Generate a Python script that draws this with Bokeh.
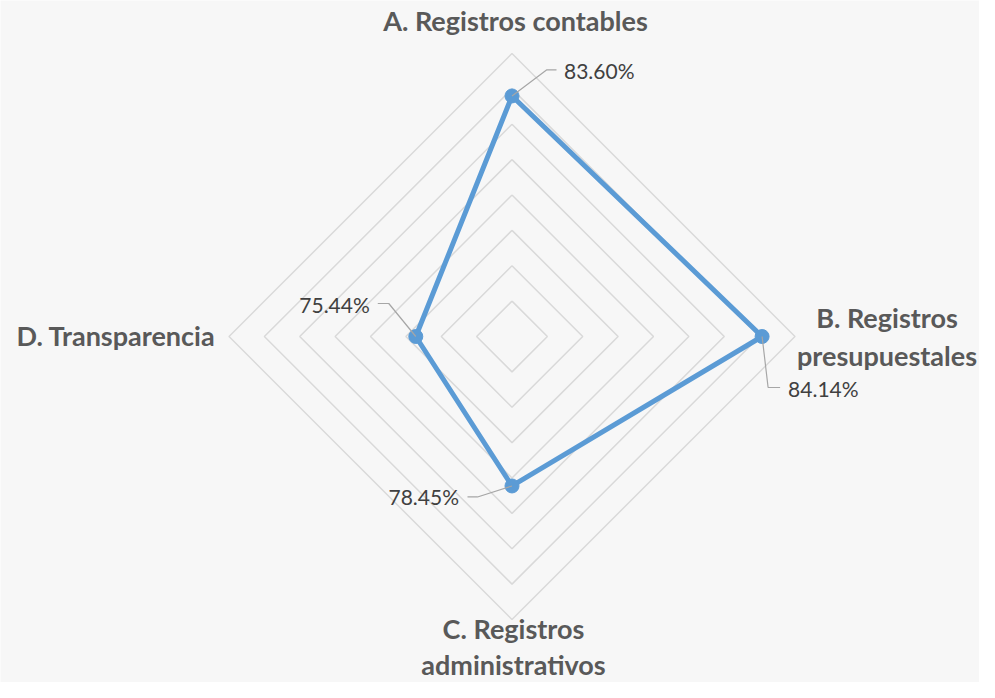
import numpy as np
from bokeh.plotting import figure
from bokeh.models import Range1d
from bokeh.core.properties import value
from bokeh.embed import file_html
from bokeh.resources import INLINE

# ---- data ----
categories = ["A. Registros contables", "B. Registros\npresupuestales",
              "C. Registros\nadministrativos", "D. Transparencia"]
scores = [83.60, 84.14, 78.45, 75.44]
score_labels = ["83.60%", "84.14%", "78.45%", "75.44%"]
ring_ticks = [70, 72, 74, 76, 78, 80, 82, 84, 86]

# ---- layout / style ----
W, H = 979, 682
CX, CY = 511.5, 336.0          # centre in figure pixels (from left / top)
R = 283.0                       # outer ring radius in px
vmin, vmax = ring_ticks[0], ring_ticks[-1]
angles = np.deg2rad([90, 0, -90, 180])   # clockwise from top

BG = "#f7f7f7"
GRID = "#d9d9d9"
SERIES = "#5b9bd5"
CAT_COLOR = "#595959"
LBL_COLOR = "#404040"
LEADER = "#a6a6a6"
FONT = "Lato"

def rad(v):
    return (np.asarray(v, dtype=float) - vmin) / (vmax - vmin) * R

p = figure(width=W, height=H, output_backend="svg", toolbar_location=None,
           x_axis_type=None, y_axis_type=None,
           x_range=Range1d(-CX, W - CX), y_range=Range1d(-(H - CY), CY),
           min_border=0, background_fill_color=BG, border_fill_color=BG,
           outline_line_color=None)
p.grid.visible = False

# rings
rx, ry = [], []
for t in ring_ticks[1:]:
    r = float(rad(t))
    xs = [r * np.cos(a) for a in angles] + [r * np.cos(angles[0])]
    ys = [r * np.sin(a) for a in angles] + [r * np.sin(angles[0])]
    rx.append(xs); ry.append(ys)
p.multi_line(rx, ry, line_color=GRID, line_width=1.5)

# series
rs = rad(scores)
px = rs * np.cos(angles)
py = rs * np.sin(angles)
p.line(list(px) + [px[0]], list(py) + [py[0]], line_color=SERIES, line_width=5,
       line_join="round")
p.scatter(px, py, size=14, fill_color=SERIES, line_color=SERIES)

# data labels with leader lines (offsets in px: elbow, end, text anchor)
elbow = [(34.5, 26), (6, -51), (-34.5, -11), (-27, 33)]
tail = [(44.5, 26), (18, -51), (-44.5, -11), (-38, 33)]
txt = [(52, 25), (26, -52), (-53, -11), (-46, 32)]
aligns = ["left", "left", "right", "right"]
for i in range(4):
    ex, ey = px[i] + elbow[i][0], py[i] + elbow[i][1]
    tx, ty = px[i] + tail[i][0], py[i] + tail[i][1]
    p.line([px[i], ex, tx], [py[i], ey, ty], line_color=LEADER, line_width=1.2)
    p.text([px[i] + txt[i][0]], [py[i] + txt[i][1]], text=[score_labels[i]],
           text_font=value(FONT), text_font_size="21px", text_color=LBL_COLOR,
           text_align=aligns[i], text_baseline="middle")

# category labels
cat_pos = [(3.5, 316), (375, 0), (1.5, -310), (-296.5, 1)]
cat_align = ["center", "center", "center", "right"]
cat_lh = [1.15, 1.15, 1.08, 1.15]
for i, c in enumerate(categories):
    p.text([cat_pos[i][0]], [cat_pos[i][1]], text=[c], text_font=value(FONT),
           text_font_size="27px", text_font_style="bold", text_color=CAT_COLOR,
           text_align=cat_align[i], text_baseline="middle", text_line_height=cat_lh[i])

html = file_html(p, INLINE)
html = html.replace("<body>", '<body style="background:%s">' % BG, 1)
open("out.html", "w").write(html)
